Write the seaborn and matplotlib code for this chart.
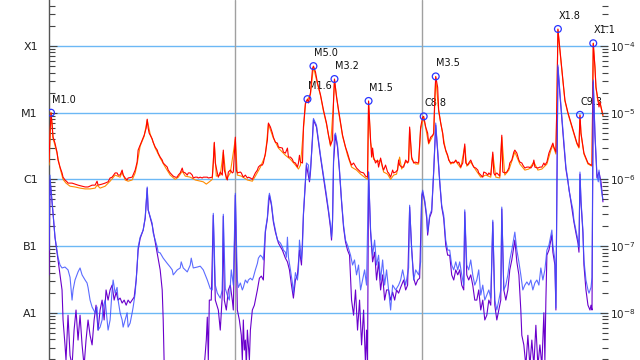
import matplotlib
matplotlib.use("Agg")
import matplotlib.pyplot as plt
import seaborn as sns
from matplotlib.ticker import FixedLocator, FixedFormatter, LogLocator, NullFormatter, LogFormatterSciNotation

# ---------------- data (time in hours from start, flux in W/m^2) ----------------
red_t = [0.0, 0.13, 0.26, 0.39, 0.52, 0.77, 1.03, 1.16, 1.42, 1.68, 1.81, 2.06, 2.32, 2.45, 2.97, 3.35, 3.74, 4.26, 4.65, 5.03,
         5.55, 5.94, 6.19, 6.32, 6.84, 7.23, 7.61, 7.87, 8.13, 8.52, 8.77, 8.9, 9.16, 9.42, 9.55, 9.81, 10.06, 10.19, 10.71, 11.1,
         11.35, 11.48, 11.74, 12.0, 12.26, 12.52, 12.65, 12.77, 12.9, 13.29, 13.42, 13.68, 13.94, 14.06, 14.32, 14.58, 14.71, 14.97, 15.23, 15.35,
         15.61, 15.87, 16.0, 16.26, 16.52, 16.65, 16.9, 17.16, 17.29, 17.55, 17.81, 17.94, 18.19, 18.45, 18.58, 18.84, 19.1, 19.23, 19.48, 19.74,
         19.87, 20.13, 20.39, 20.52, 21.03, 21.16, 21.29, 21.42, 21.68, 21.81, 22.06, 22.32, 22.45, 22.58, 22.84, 22.97, 23.1, 23.35, 23.61, 23.74,
         24.0, 24.13, 24.26, 24.65, 24.77, 25.03, 25.29, 25.55, 25.68, 25.94, 26.19, 26.32, 26.58, 26.84, 26.97, 27.23, 27.48, 27.61, 27.87, 28.13,
         28.26, 28.52, 28.77, 28.9, 29.16, 29.42, 29.55, 30.06, 30.19, 30.45, 30.71, 30.84, 31.1, 31.35, 31.48, 31.74, 32.0, 32.13, 32.26, 32.39,
         32.65, 32.77, 33.03, 33.29, 33.42, 33.68, 33.94, 34.06, 34.32, 34.58, 34.97, 35.35, 35.74, 36.0, 36.26, 36.52, 36.65, 36.77, 37.03, 37.29,
         37.55, 37.81, 38.19, 38.45, 38.71, 38.97, 39.23, 39.61, 40.13, 40.52, 40.77, 41.03, 41.16, 41.42, 41.55, 41.68, 41.81, 42.06, 42.32, 42.45,
         42.71, 42.97, 43.1, 43.35, 43.61, 43.74, 44.0, 44.26, 44.39, 44.65, 44.9, 45.03, 45.16, 45.42, 45.68, 45.94, 46.19, 46.32, 46.45, 46.71,
         46.97, 47.23, 47.48, 47.61, 47.87, 48.13, 48.26, 48.52, 48.77, 48.9, 49.16, 49.42, 49.55, 49.68, 49.81, 50.06, 50.19, 50.45, 50.71, 50.84,
         51.1, 51.35, 51.48, 51.74, 52.0, 52.13, 52.39, 52.65, 52.77, 53.03, 53.29, 53.55, 53.68, 53.94, 54.06, 54.32, 54.58, 54.71, 54.97, 55.23,
         55.35, 55.61, 55.87, 56.0, 56.26, 56.52, 56.65, 56.9, 57.16, 57.29, 57.42, 57.68, 57.94, 58.06, 58.32, 58.45, 58.71, 58.97, 59.23, 59.35,
         59.61, 59.87, 60.0, 60.26, 60.52, 60.65, 60.9, 61.03, 61.29, 61.55, 61.81, 62.06, 62.32, 62.45, 62.58, 62.97, 63.23, 63.48, 63.74, 63.87,
         64.13, 64.39, 64.65, 64.9, 65.03, 65.29, 65.42, 65.55, 65.81, 66.19, 66.45, 66.84, 67.23, 67.61, 68.0, 68.26, 68.39, 68.52, 68.9, 69.42,
         69.81, 69.94, 70.1, 70.32, 70.45, 70.71, 70.84, 70.97, 71.1, 71.35]
red_f = [1.82e-6, 4.95e-6, 1.0e-5, 7.0e-6, 4.3e-6, 3.5e-6, 2.57e-6, 1.95e-6, 1.53e-6, 1.25e-6, 1.08e-6, 9.8e-7, 9.2e-7, 8.8e-7, 8.8e-7, 8.5e-7, 8.2e-7, 7.9e-7, 7.7e-7, 7.7e-7,
         8.2e-7, 8.2e-7, 9.4e-7, 8.2e-7, 8.5e-7, 8.8e-7, 9.2e-7, 1.05e-6, 1.08e-6, 1.25e-6, 1.25e-6, 1.16e-6, 1.16e-6, 1.38e-6, 1.16e-6, 1.05e-6, 9.8e-7, 1.05e-6, 1.08e-6, 1.38e-6,
         1.82e-6, 2.75e-6, 3.27e-6, 3.9e-6, 4.6e-6, 5.9e-6, 8.0e-6, 5.9e-6, 4.95e-6, 4.05e-6, 3.6e-6, 3.05e-6, 2.75e-6, 2.48e-6, 2.16e-6, 1.95e-6, 1.76e-6, 1.64e-6, 1.53e-6, 1.38e-6,
         1.25e-6, 1.16e-6, 1.12e-6, 1.08e-6, 1.08e-6, 1.16e-6, 1.25e-6, 1.48e-6, 1.29e-6, 1.25e-6, 1.16e-6, 1.25e-6, 1.25e-6, 1.16e-6, 1.05e-6, 1.08e-6, 1.08e-6, 1.05e-6, 1.08e-6, 1.05e-6,
         1.08e-6, 1.08e-6, 1.08e-6, 1.05e-6, 1.08e-6, 1.76e-6, 3.6e-6, 1.76e-6, 1.25e-6, 1.08e-6, 1.29e-6, 1.16e-6, 2.75e-6, 1.38e-6, 1.08e-6, 9.8e-7, 1.29e-6, 1.38e-6, 1.25e-6, 1.29e-6,
         4.3e-6, 1.38e-6, 1.25e-6, 1.29e-6, 1.25e-6, 1.08e-6, 1.16e-6, 1.05e-6, 1.08e-6, 1.05e-6, 1.0e-6, 1.08e-6, 1.25e-6, 1.38e-6, 1.53e-6, 1.64e-6, 1.64e-6, 1.76e-6, 2.48e-6, 3.9e-6,
         7.0e-6, 6.1e-6, 4.95e-6, 4.3e-6, 3.6e-6, 3.5e-6, 3.05e-6, 2.95e-6, 2.57e-6, 2.48e-6, 2.95e-6, 2.16e-6, 2.16e-6, 2.0e-6, 1.82e-6, 1.76e-6, 1.53e-6, 1.76e-6, 2.3e-6, 1.82e-6,
         1.76e-6, 6.1e-6, 1.4e-5, 1.6e-5, 1.4e-5, 2.0e-5, 4.6e-5, 5.0e-5, 4.1e-5, 2.8e-5, 1.85e-5, 1.1e-5, 7.0e-6, 4.6e-6, 3.27e-6, 3.9e-6, 1.55e-5, 3.2e-5, 1.72e-5, 1.1e-5,
         7.0e-6, 4.6e-6, 3.05e-6, 2.48e-6, 1.95e-6, 1.64e-6, 1.76e-6, 1.48e-6, 1.29e-6, 1.25e-6, 1.12e-6, 1.08e-6, 1.5e-5, 3.9e-6, 2.16e-6, 2.95e-6, 2.16e-6, 1.76e-6, 1.95e-6, 1.53e-6,
         2.09e-6, 1.53e-6, 1.38e-6, 1.64e-6, 1.29e-6, 1.25e-6, 1.08e-6, 1.38e-6, 1.25e-6, 1.29e-6, 1.38e-6, 1.95e-6, 1.64e-6, 1.53e-6, 1.53e-6, 1.95e-6, 1.76e-6, 1.95e-6, 6.1e-6, 2.16e-6,
         1.76e-6, 1.82e-6, 1.76e-6, 1.82e-6, 6.1e-6, 8.6e-6, 8.8e-6, 6.1e-6, 4.95e-6, 3.5e-6, 4.3e-6, 4.6e-6, 4.95e-6, 1.55e-5, 3.5e-5, 2.4e-5, 1.1e-5, 7.0e-6, 4.95e-6, 3.5e-6,
         2.75e-6, 2.3e-6, 1.95e-6, 1.76e-6, 1.82e-6, 1.76e-6, 1.95e-6, 1.76e-6, 1.82e-6, 1.53e-6, 1.76e-6, 3.4e-6, 1.76e-6, 1.64e-6, 1.76e-6, 1.95e-6, 1.64e-6, 1.53e-6, 1.48e-6, 1.38e-6,
         1.25e-6, 1.16e-6, 1.08e-6, 1.29e-6, 1.25e-6, 1.16e-6, 1.25e-6, 1.16e-6, 2.57e-6, 1.25e-6, 1.16e-6, 1.25e-6, 1.16e-6, 1.12e-6, 4.6e-6, 1.29e-6, 1.25e-6, 1.29e-6, 1.48e-6, 1.76e-6,
         1.95e-6, 2.57e-6, 2.75e-6, 2.48e-6, 1.95e-6, 1.82e-6, 1.76e-6, 1.64e-6, 1.48e-6, 1.53e-6, 1.53e-6, 1.48e-6, 1.64e-6, 1.95e-6, 1.53e-6, 1.48e-6, 1.53e-6, 1.53e-6, 1.76e-6, 1.64e-6,
         1.82e-6, 2.48e-6, 2.95e-6, 3.5e-6, 3.05e-6, 2.57e-6, 1.55e-5, 1.8e-4, 8.7e-5, 3.1e-5, 1.55e-5, 1.0e-5, 7.0e-6, 4.95e-6, 3.5e-6, 3.05e-6, 9.3e-6, 4.95e-6, 2.48e-6, 1.76e-6,
         1.64e-6, 1.64e-6, 1.1e-4, 4.85e-5, 2.43e-5, 1.55e-5, 1.22e-5, 1.45e-5, 1.22e-5, 9.2e-6]

orange_t = [0.0, 0.26, 0.52, 1.03, 1.42, 1.81, 2.19, 2.71, 3.35, 4.0, 4.65, 5.29, 5.94, 6.19, 6.58, 7.23, 7.87, 8.52, 9.16, 9.42,
            9.81, 10.19, 10.71, 11.1, 11.35, 11.74, 12.26, 12.65, 13.03, 13.68, 14.32, 14.97, 15.61, 16.26, 16.65, 17.16, 17.55, 18.19, 18.84, 19.48,
            19.87, 20.26, 20.65, 21.03, 21.29, 21.55, 22.06, 22.45, 22.84, 23.35, 24.0, 24.26, 24.77, 25.55, 26.19, 26.58, 27.23, 27.87, 28.26, 28.9,
            29.55, 30.45, 31.1, 31.74, 32.13, 32.39, 32.77, 33.03, 33.29, 33.68, 34.06, 34.58, 34.97, 35.35, 35.74, 36.26, 36.65, 36.77, 37.29, 37.81,
            38.45, 38.97, 39.61, 40.13, 40.77, 41.03, 41.16, 41.42, 41.81, 42.32, 42.71, 43.1, 43.61, 44.0, 44.39, 44.77, 45.16, 45.42, 45.94, 46.32,
            46.45, 46.71, 47.23, 47.61, 47.87, 48.26, 48.52, 48.9, 49.55, 49.81, 50.19, 50.71, 51.1, 51.74, 52.39, 53.03, 53.55, 53.81, 54.32, 54.97,
            55.61, 56.26, 56.9, 57.16, 57.55, 58.06, 58.32, 58.71, 59.23, 60.0, 60.65, 61.29, 61.81, 62.45, 62.97, 63.48, 64.13, 64.65, 64.9, 65.29,
            65.42, 65.55, 65.81, 66.19, 66.45, 66.84, 67.23, 67.61, 68.0, 68.26, 68.39, 68.52, 68.9, 69.42, 69.94, 70.1, 70.32, 70.45, 70.71, 70.97,
            71.35]
orange_f = [1.64e-6, 1.0e-5, 4.15e-6, 2.48e-6, 1.48e-6, 1.0e-6, 8.8e-7, 7.9e-7, 7.7e-7, 7.4e-7, 7.2e-7, 7.2e-7, 7.4e-7, 8.2e-7, 7.4e-7, 7.9e-7, 9.4e-7, 1.16e-6, 1.08e-6, 1.29e-6,
            9.8e-7, 9.4e-7, 9.8e-7, 1.25e-6, 1.7e-6, 3.15e-6, 4.45e-6, 7.8e-6, 4.8e-6, 2.95e-6, 2.09e-6, 1.53e-6, 1.16e-6, 1.0e-6, 1.08e-6, 1.33e-6, 1.12e-6, 1.08e-6, 9.8e-7, 9.4e-7,
            9.2e-7, 8.5e-7, 9.2e-7, 1.0e-6, 3.5e-6, 1.12e-6, 1.16e-6, 2.57e-6, 1.0e-6, 1.25e-6, 4.05e-6, 1.16e-6, 1.12e-6, 9.8e-7, 9.4e-7, 1.12e-6, 1.53e-6, 2.3e-6, 6.75e-6, 4.15e-6,
            2.95e-6, 2.3e-6, 2.0e-6, 1.64e-6, 1.43e-6, 1.64e-6, 5.5e-6, 1.35e-5, 1.55e-5, 1.9e-5, 4.85e-5, 2.7e-5, 1.8e-5, 1.05e-5, 6.75e-6, 3.15e-6, 1.45e-5, 3.1e-5, 1.05e-5, 4.45e-6,
            2.3e-6, 1.53e-6, 1.38e-6, 1.2e-6, 1.05e-6, 1.0e-6, 1.45e-5, 3.6e-6, 2.0e-6, 1.82e-6, 1.95e-6, 1.29e-6, 1.2e-6, 1.0e-6, 1.16e-6, 1.2e-6, 2.16e-6, 1.43e-6, 1.82e-6, 1.82e-6,
            5.7e-6, 2.0e-6, 1.7e-6, 1.7e-6, 5.7e-6, 8.3e-6, 5.9e-6, 3.4e-6, 4.8e-6, 3.35e-5, 1.05e-5, 4.8e-6, 2.65e-6, 1.7e-6, 1.87e-6, 1.48e-6, 3.15e-6, 1.58e-6, 1.82e-6, 1.38e-6,
            1.08e-6, 1.16e-6, 1.08e-6, 2.4e-6, 1.08e-6, 1.05e-6, 4.3e-6, 1.16e-6, 1.38e-6, 2.57e-6, 1.7e-6, 1.38e-6, 1.43e-6, 1.82e-6, 1.38e-6, 1.43e-6, 1.7e-6, 2.75e-6, 3.27e-6, 2.4e-6,
            1.45e-5, 1.75e-4, 8.4e-5, 3.0e-5, 1.5e-5, 9.7e-6, 6.75e-6, 4.8e-6, 3.4e-6, 2.95e-6, 9.0e-6, 4.8e-6, 2.4e-6, 1.7e-6, 1.58e-6, 1.1e-4, 4.7e-5, 2.35e-5, 1.5e-5, 1.4e-5,
            8.9e-6]

blue_t = [0.0, 0.13, 0.26, 0.52, 0.77, 1.16, 1.42, 1.68, 2.06, 2.45, 2.71, 2.97, 3.1, 3.35, 3.74, 4.0, 4.26, 4.65, 4.9, 5.03,
          5.29, 5.55, 5.94, 6.19, 6.32, 6.58, 6.84, 6.97, 7.23, 7.48, 7.61, 7.87, 8.13, 8.26, 8.52, 8.77, 8.9, 9.16, 9.42, 9.55,
          9.81, 10.06, 10.19, 10.45, 10.71, 10.84, 11.1, 11.35, 11.48, 11.74, 12.13, 12.39, 12.65, 12.77, 13.29, 13.42, 13.68, 13.94, 14.06, 14.32,
          14.71, 15.23, 15.61, 15.87, 16.0, 16.52, 16.9, 17.03, 17.29, 17.81, 18.19, 18.32, 18.58, 19.1, 19.48, 19.87, 20.39, 20.77, 21.03, 21.16,
          21.42, 21.68, 22.06, 22.32, 22.45, 22.71, 22.97, 23.23, 23.48, 23.74, 24.0, 24.26, 24.39, 24.65, 24.9, 25.03, 25.29, 25.55, 25.68, 25.94,
          26.19, 26.32, 26.58, 26.84, 26.97, 27.23, 27.48, 27.61, 27.87, 28.13, 28.26, 28.39, 28.65, 28.9, 29.16, 29.42, 29.81, 30.06, 30.19, 30.45,
          30.58, 30.71, 30.84, 31.1, 31.35, 31.48, 31.74, 32.0, 32.13, 32.26, 32.52, 32.65, 32.77, 33.03, 33.16, 33.42, 33.55, 33.68, 33.94, 34.06,
          34.45, 34.71, 34.97, 35.35, 35.74, 36.0, 36.26, 36.39, 36.52, 36.65, 36.77, 36.9, 37.16, 37.42, 37.68, 37.94, 38.19, 38.45, 38.84, 39.1,
          39.35, 39.61, 39.87, 40.13, 40.39, 40.65, 40.9, 41.16, 41.42, 41.68, 41.94, 42.19, 42.45, 42.71, 42.97, 43.23, 43.48, 43.74, 44.0, 44.26,
          44.65, 45.03, 45.29, 45.55, 45.94, 46.32, 46.45, 46.71, 46.97, 47.23, 47.61, 47.87, 48.0, 48.13, 48.39, 48.65, 48.77, 49.03, 49.29, 49.55,
          49.81, 50.06, 50.32, 50.58, 50.84, 51.1, 51.35, 51.61, 51.87, 52.13, 52.39, 52.65, 52.9, 53.16, 53.42, 53.55, 53.81, 54.06, 54.32, 54.58,
          54.84, 55.1, 55.35, 55.61, 55.87, 56.13, 56.39, 56.65, 56.9, 57.16, 57.42, 57.68, 57.94, 58.19, 58.32, 58.58, 58.84, 59.1, 59.35, 59.61,
          60.0, 60.26, 60.52, 60.77, 61.03, 61.29, 61.55, 61.81, 62.06, 62.32, 62.58, 62.84, 63.1, 63.35, 63.61, 63.87, 64.13, 64.39, 64.65, 64.77,
          64.9, 65.16, 65.29, 65.55, 65.81, 66.06, 66.32, 66.58, 66.84, 66.97, 67.23, 67.48, 67.61, 67.87, 68.13, 68.26, 68.39, 68.52, 68.77, 68.9,
          69.16, 69.42, 69.55, 69.81, 69.94, 70.1, 70.32, 70.58, 70.75, 70.84, 70.97, 71.15, 71.35]
blue_f = [8.7e-8, 1.16e-6, 6.9e-7, 3.1e-7, 1.36e-7, 6.8e-8, 5.2e-8, 4.7e-8, 4.85e-8, 4.4e-8, 3.4e-8, 1.55e-8, 2.2e-8, 3.1e-8, 4.1e-8, 4.7e-8, 3.7e-8, 3.1e-8, 2.8e-8, 2.4e-8,
          1.55e-8, 1.22e-8, 1.0e-8, 1.22e-8, 5.5e-9, 6.1e-9, 7.8e-9, 1.22e-8, 1.55e-8, 7.8e-9, 5.5e-9, 7.8e-9, 2.2e-8, 3.1e-8, 1.97e-8, 2.4e-8, 1.55e-8, 1.0e-8, 7.8e-9, 6.1e-9,
          7.8e-9, 1.0e-8, 6.1e-9, 7.0e-9, 1.0e-8, 1.22e-8, 1.97e-8, 4.85e-8, 9.7e-8, 1.36e-7, 1.74e-7, 2.7e-7, 7.7e-7, 3.5e-7, 2.2e-7, 1.57e-7, 1.23e-7, 9.7e-8, 8.1e-8, 7.9e-8,
          6.6e-8, 5.5e-8, 4.85e-8, 4.4e-8, 3.7e-8, 4.4e-8, 4.7e-8, 5.8e-8, 4.7e-8, 4.1e-8, 5.2e-8, 6.6e-8, 4.7e-8, 4.85e-8, 5.0e-8, 4.4e-8, 3.1e-8, 2.3e-8, 2.2e-8, 3.1e-7,
          2.6e-8, 1.97e-8, 1.66e-8, 2.2e-8, 3.0e-7, 2.3e-8, 1.84e-8, 1.55e-8, 4.4e-8, 2.6e-8, 6.2e-7, 3.1e-8, 2.4e-8, 2.8e-8, 2.2e-8, 2.4e-8, 3.1e-8, 2.8e-8, 3.1e-8, 3.3e-8,
          3.1e-8, 3.4e-8, 4.4e-8, 5.5e-8, 6.6e-8, 7.3e-8, 6.8e-8, 6.2e-8, 1.74e-7, 2.7e-7, 4.9e-7, 6.2e-7, 4.4e-7, 2.45e-7, 1.74e-7, 1.23e-7, 1.11e-7, 9.7e-8, 8.7e-8, 8.1e-8,
          6.8e-8, 1.36e-7, 6.8e-8, 4.4e-8, 2.8e-8, 1.97e-8, 4.0e-8, 3.1e-8, 4.4e-8, 1.23e-7, 6.2e-8, 9.7e-8, 3.1e-7, 9.8e-7, 1.76e-6, 1.64e-6, 9.8e-7, 1.38e-6, 3.9e-6, 8.2e-6,
          6.5e-6, 3.9e-6, 2.3e-6, 1.16e-6, 5.8e-7, 3.5e-7, 2.06e-7, 1.36e-7, 2.45e-7, 1.95e-6, 4.6e-6, 4.95e-6, 3.27e-6, 1.38e-6, 4.9e-7, 2.06e-7, 1.23e-7, 1.03e-7, 7.3e-8, 5.2e-8,
          6.2e-8, 3.7e-8, 5.2e-8, 2.2e-8, 3.1e-8, 4.4e-8, 2.6e-8, 1.29e-6, 1.74e-7, 7.3e-8, 1.23e-7, 5.2e-8, 7.3e-8, 3.1e-8, 6.2e-8, 2.6e-8, 4.4e-8, 2.2e-8, 1.1e-8, 2.6e-8,
          2.2e-8, 2.6e-8, 3.1e-8, 4.4e-8, 2.6e-8, 4.7e-8, 4.1e-7, 8.7e-8, 3.1e-8, 4.4e-8, 3.7e-8, 5.8e-8, 5.8e-7, 6.9e-7, 4.9e-7, 2.9e-7, 1.62e-7, 2.9e-7, 3.5e-7, 1.38e-6,
          7.0e-6, 2.75e-6, 9.8e-7, 4.1e-7, 2.9e-7, 1.23e-7, 8.7e-8, 8.7e-8, 5.2e-8, 4.4e-8, 5.8e-8, 4.4e-8, 5.8e-8, 3.7e-8, 2.6e-8, 3.5e-7, 5.2e-8, 4.4e-8, 6.2e-8, 3.7e-8,
          2.6e-8, 3.1e-8, 4.4e-8, 1.84e-8, 2.6e-8, 1.55e-8, 1.84e-8, 2.2e-8, 1.66e-8, 2.45e-7, 1.55e-8, 1.1e-8, 1.55e-8, 2.2e-8, 3.85e-7, 2.2e-8, 2.6e-8, 3.7e-8, 6.2e-8, 8.7e-8,
          1.62e-7, 8.7e-8, 5.8e-8, 3.7e-8, 2.2e-8, 2.6e-8, 2.9e-8, 2.6e-8, 3.1e-8, 2.2e-8, 2.8e-8, 3.1e-8, 2.6e-8, 4.7e-8, 3.1e-8, 4.4e-8, 8.7e-8, 1.03e-7, 1.46e-7, 1.74e-7,
          1.03e-7, 6.2e-8, 1.18e-8, 5.2e-5, 2.0e-5, 8.6e-6, 3.5e-6, 1.53e-6, 9.8e-7, 6.9e-7, 4.9e-7, 3.5e-7, 2.45e-7, 1.74e-7, 1.23e-7, 9.7e-8, 1.29e-6, 4.9e-7, 1.74e-7, 6.2e-8,
          3.1e-8, 2.2e-8, 1.97e-8, 2.4e-8, 3.4e-8, 3.1e-5, 4.95e-6, 1.16e-6, 9.2e-7, 1.38e-6, 9.8e-7, 6.9e-7, 4.9e-7]

purple_t = [0.0, 0.13, 0.26, 0.52, 0.77, 1.16, 1.42, 1.68, 1.81, 2.06, 2.19, 2.45, 2.71, 2.97, 3.23, 3.48, 3.74, 4.0, 4.26, 4.52,
            4.77, 5.03, 5.29, 5.55, 5.81, 6.06, 6.32, 6.58, 6.84, 7.1, 7.35, 7.61, 7.87, 8.13, 8.39, 8.65, 8.9, 9.16, 9.42, 9.68,
            9.94, 10.19, 10.45, 10.71, 10.97, 11.23, 11.48, 11.74, 12.13, 12.39, 12.65, 12.77, 13.29, 13.68, 14.06, 14.32, 14.58, 14.71, 14.84, 17.55,
            20.0, 20.26, 20.39, 20.52, 20.65, 20.9, 21.16, 21.42, 21.81, 22.06, 22.32, 22.45, 22.58, 22.84, 23.1, 23.35, 23.61, 23.74, 24.0, 24.26,
            24.52, 24.77, 24.9, 25.03, 25.16, 25.29, 25.42, 25.55, 25.68, 25.81, 25.94, 26.19, 26.45, 26.58, 26.84, 27.1, 27.35, 27.61, 27.87, 28.13,
            28.39, 28.65, 28.9, 29.16, 29.55, 30.06, 30.45, 30.71, 30.97, 31.23, 31.48, 31.74, 32.0, 32.26, 32.52, 32.77, 33.03, 33.16, 33.55, 33.68,
            34.06, 34.45, 34.71, 34.97, 35.35, 35.74, 36.0, 36.26, 36.39, 36.52, 36.65, 36.9, 37.16, 37.42, 37.68, 37.94, 38.19, 38.45, 38.71, 38.97,
            39.23, 39.48, 39.74, 40.0, 40.26, 40.52, 40.77, 40.9, 41.03, 41.16, 41.42, 41.68, 41.94, 42.19, 42.45, 42.71, 42.97, 43.23, 43.48, 43.74,
            44.0, 44.26, 44.52, 44.77, 45.03, 45.29, 45.68, 45.94, 46.19, 46.45, 46.71, 46.97, 47.23, 47.48, 47.74, 48.0, 48.13, 48.39, 48.65, 48.77,
            49.03, 49.29, 49.55, 49.81, 50.06, 50.32, 50.58, 50.84, 51.1, 51.35, 51.61, 51.87, 52.13, 52.39, 52.65, 52.9, 53.16, 53.42, 53.55, 53.81,
            54.06, 54.32, 54.58, 54.84, 55.1, 55.35, 55.61, 55.87, 56.13, 56.39, 56.65, 56.9, 57.16, 57.42, 57.68, 57.94, 58.19, 58.32, 58.58, 58.84,
            59.1, 59.35, 59.61, 60.0, 60.26, 60.52, 60.77, 60.9, 61.16, 61.42, 61.68, 61.94, 62.19, 62.45, 62.71, 62.97, 63.23, 63.48, 63.74, 63.87,
            64.0, 64.13, 64.39, 64.65, 64.77, 64.9, 65.16, 65.29, 65.55, 65.81, 66.06, 66.32, 66.58, 66.84, 67.23, 67.61, 67.87, 68.13, 68.26, 68.39,
            68.52, 68.77, 68.9, 69.16, 69.42, 69.68, 69.81, 69.94, 70.1, 70.32, 70.58, 70.84, 71.1, 71.35]
purple_f = [3.7e-8, 9.8e-7, 6.9e-7, 3.1e-7, 1.36e-7, 6.2e-8, 3.7e-8, 2.2e-8, 7.8e-9, 3.3e-9, 1.95e-9, 9.2e-9, 2.3e-9, 1.6e-9, 5.5e-9, 1.1e-8, 3.9e-9, 9.2e-9, 3.3e-9, 1.6e-9,
            3.9e-9, 7.8e-9, 4.6e-9, 3.3e-9, 7.8e-9, 1.3e-8, 5.5e-9, 1.1e-8, 1.55e-8, 7.8e-9, 2.2e-8, 1.55e-8, 2.2e-8, 2.6e-8, 1.55e-8, 2.04e-8, 1.55e-8, 1.66e-8, 1.4e-8, 1.55e-8,
            1.3e-8, 1.55e-8, 1.4e-8, 1.55e-8, 1.72e-8, 3.1e-8, 8.7e-8, 1.3e-7, 1.74e-7, 2.6e-7, 7.4e-7, 3.5e-7, 2.06e-7, 1.15e-7, 6.6e-8, 4.4e-8, 2.2e-8, 7.8e-9, 1.6e-9, 1.0e-9,
            1.6e-9, 3.9e-9, 8.6e-9, 1.95e-9, 1.55e-8, 1.55e-8, 2.9e-7, 1.55e-8, 1.1e-8, 5.5e-9, 1.84e-8, 2.8e-7, 1.55e-8, 1.1e-8, 2.2e-8, 2.6e-8, 1.55e-8, 1.1e-8, 5.8e-7, 1.1e-8,
            7.8e-9, 4.6e-9, 1.95e-9, 7.8e-9, 2.76e-9, 3.9e-9, 1.6e-9, 5.5e-9, 3.3e-9, 1.95e-9, 5.5e-9, 1.1e-8, 1.3e-8, 1.55e-8, 2.2e-8, 3.3e-8, 3.55e-8, 3.1e-8, 1.62e-7, 2.6e-7,
            5.8e-7, 4.1e-7, 2.3e-7, 1.62e-7, 1.11e-7, 8.7e-8, 6.6e-8, 5.8e-8, 4.4e-8, 2.6e-8, 1.66e-8, 3.1e-8, 3.7e-8, 8.7e-8, 5.2e-8, 2.9e-7, 9.2e-7, 1.64e-6, 9.2e-7, 1.29e-6,
            7.8e-6, 6.1e-6, 3.6e-6, 2.16e-6, 1.08e-6, 5.4e-7, 3.25e-7, 1.86e-7, 1.23e-7, 2.3e-7, 1.82e-6, 4.6e-6, 3.05e-6, 1.29e-6, 4.6e-7, 1.9e-7, 1.15e-7, 8.7e-8, 7.3e-8, 1.55e-8,
            9.2e-9, 2.2e-8, 5.5e-9, 1.55e-8, 3.3e-9, 1.1e-8, 1.6e-9, 5.5e-9, 1.95e-9, 1.29e-6, 1.62e-7, 5.8e-8, 8.1e-8, 3.1e-8, 5.8e-8, 2.2e-8, 3.7e-8, 1.55e-8, 2.2e-8, 2.2e-8,
            1.55e-8, 2.04e-8, 1.55e-8, 2.2e-8, 1.97e-8, 2.4e-8, 3.1e-8, 2.2e-8, 2.6e-8, 3.85e-7, 9.3e-8, 3.3e-8, 2.6e-8, 3.1e-8, 3.3e-8, 5.4e-7, 6.5e-7, 4.6e-7, 2.6e-7, 1.46e-7,
            2.7e-7, 3.25e-7, 1.29e-6, 6.5e-6, 2.57e-6, 9.2e-7, 3.85e-7, 2.6e-7, 1.03e-7, 7.3e-8, 7.3e-8, 3.7e-8, 3.1e-8, 4.4e-8, 3.7e-8, 4.4e-8, 2.6e-8, 2.2e-8, 3.25e-7, 3.7e-8,
            3.1e-8, 3.7e-8, 2.6e-8, 1.55e-8, 1.55e-8, 2.2e-8, 1.1e-8, 1.55e-8, 7.8e-9, 9.2e-9, 1.55e-8, 1.3e-8, 2.3e-7, 1.3e-8, 7.8e-9, 1.1e-8, 1.55e-8, 3.6e-7, 2.2e-8, 1.55e-8,
            2.2e-8, 4.4e-8, 6.2e-8, 1.23e-7, 5.8e-8, 3.7e-8, 1.1e-8, 4.6e-9, 3.3e-9, 1.6e-9, 4.6e-9, 1.6e-9, 3.9e-9, 1.6e-9, 6.5e-9, 1.6e-9, 3.3e-9, 1.6e-9, 1.0e-8, 1.95e-9,
            1.55e-8, 7.3e-8, 8.7e-8, 1.23e-7, 1.46e-7, 8.1e-8, 5.2e-8, 1.1e-8, 4.85e-5, 1.85e-5, 7.8e-6, 3.27e-6, 1.43e-6, 9.2e-7, 4.6e-7, 2.3e-7, 1.57e-7, 1.11e-7, 8.1e-8, 1.2e-6,
            4.6e-7, 1.57e-7, 5.2e-8, 2.2e-8, 1.3e-8, 1.1e-8, 1.3e-8, 1.1e-8, 2.9e-5, 4.6e-6, 1.05e-6, 1.29e-6, 9.2e-7, 4.6e-7]

flare_t = [0.26, 33.29, 34.06, 36.77, 41.16, 48.26, 49.81, 65.55, 68.39, 70.1]
flare_f = [1.0e-5, 1.6e-5, 5.0e-5, 3.2e-5, 1.5e-5, 8.8e-6, 3.5e-5, 1.8e-4, 9.3e-6, 1.1e-4]
flare_labels = ["M1.0", "M1.6", "M5.0", "M3.2", "M1.5", "C8.8", "M3.5", "X1.8", "C9.3", "X1.1"]

class_levels = [1e-8, 1e-7, 1e-6, 1e-5, 1e-4]
class_labels = ["A1", "B1", "C1", "M1", "X1"]
day_boundaries = [24, 48]

# ---------------- plot ----------------
sns.set_style("white")
plt.rcParams['font.family'] = ['DejaVu Sans']

fig = plt.figure(figsize=(6.4, 3.6), dpi=100)
ax = fig.add_axes([49 / 640, 0.0, 559 / 640, 1.0])
ax.set_yscale('log')
ylim = (10 ** -8.708, 10 ** -3.31)

for lv in class_levels:
    ax.axhline(lv, color='#6cb8f5', lw=1.0, zorder=0)
for d in day_boundaries:
    ax.axvline(d, color='#a0a0a0', lw=1.0, zorder=0)

sns.lineplot(x=orange_t, y=orange_f, ax=ax, color='#ff8c00', lw=0.8, estimator=None, sort=False, zorder=3)
sns.lineplot(x=red_t, y=red_f, ax=ax, color='#ff0000', lw=0.8, estimator=None, sort=False, zorder=4)
sns.lineplot(x=purple_t, y=purple_f, ax=ax, color='#6a00cc', lw=0.8, estimator=None, sort=False, zorder=5)
sns.lineplot(x=blue_t, y=blue_f, ax=ax, color='#3f52ff', lw=0.8, alpha=0.85, estimator=None, sort=False, zorder=6)
sns.scatterplot(x=flare_t, y=flare_f, ax=ax, s=24, facecolors='none', edgecolors='#2a35ff',
                linewidths=0.9, zorder=7)

for t, f, lab in zip(flare_t, flare_f, flare_labels):
    ax.annotate(lab, (t, f), xytext=(0.5, 9.5), textcoords='offset points', ha='left', va='center',
                fontsize=7, color='#111111', zorder=2)

ax.set_xlim(0, 72)
ax.set_ylim(*ylim)
ax.set_xticks([])
ax.set_xlabel('')
ax.set_ylabel('')
for s in ['top', 'bottom', 'right']:
    ax.spines[s].set_visible(False)
ax.spines['left'].set_color('#555555')
ax.spines['left'].set_linewidth(1.0)
ax.yaxis.set_major_locator(FixedLocator(class_levels))
ax.yaxis.set_major_formatter(FixedFormatter(class_labels))
ax.yaxis.set_minor_locator(LogLocator(base=10, subs=[2, 3, 4, 5, 6, 7, 8, 9], numticks=20))
ax.yaxis.set_minor_formatter(NullFormatter())
ax.tick_params(axis='y', which='major', direction='in', length=6, width=0.8, color='#444444',
               labelsize=8, labelcolor='#222222', pad=8)
ax.tick_params(axis='y', which='minor', direction='in', length=4, width=0.8, color='#444444')

ax2 = ax.twinx()
ax2.set_yscale('log')
ax2.set_ylim(*ylim)
for s in ax2.spines.values():
    s.set_visible(False)
ax2.yaxis.set_major_locator(FixedLocator(class_levels))
ax2.yaxis.set_major_formatter(LogFormatterSciNotation())
ax2.yaxis.set_minor_locator(LogLocator(base=10, subs=[2, 3, 4, 5, 6, 7, 8, 9], numticks=20))
ax2.yaxis.set_minor_formatter(NullFormatter())
ax2.tick_params(axis='y', which='major', direction='in', length=6, width=0.8, color='#444444',
                labelsize=7.5, labelcolor='#222222', pad=1.5)
ax2.tick_params(axis='y', which='minor', direction='in', length=4, width=0.8, color='#444444')
ax2.set_xticks([])

fig.savefig('out.png', dpi=100)
